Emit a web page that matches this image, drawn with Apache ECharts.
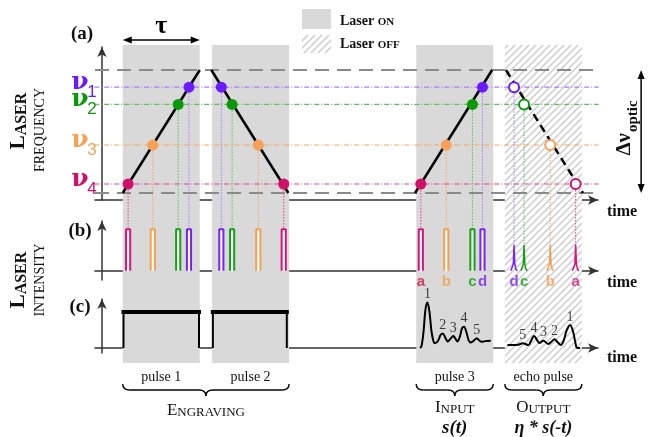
<!DOCTYPE html>
<html>
<head>
<meta charset="utf-8">
<script src="https://cdn.jsdelivr.net/npm/echarts@6.0.0/dist/echarts.min.js"></script>
<style>
html,body{margin:0;padding:0;background:#ffffff;}
#chart{width:656px;height:437px;}
</style>
</head>
<body>
<div id="chart"></div>
<script>
// ================= DATA =================
const tau = 10;                                  // chirp duration (time units)
const deltaNu = 10;                              // optical bandwidth Δν_optic (freq units)
const rampStarts = [2.7, 14.2, 40.65, 52.45];    // pulse 1, pulse 2, pulse 3, echo
const rampDirections = ['up', 'down', 'up', 'down'];
const rampDashed = [false, false, false, true];
const nuLevels = [8.6, 7.2, 3.9, 0.73];          // ν1, ν2, ν3, ν4
const nuNames = ['1', '2', '3', '4'];
const pulseLetters = ['d', 'c', 'b', 'a'];       // letter of each frequency component
// time at which each frequency is reached: [pulse 1, pulse 2, pulse 3, echo]
const nu1Times = [11.3, 15.5, 49.4, 53.5];
const nu2Times = [9.9, 16.9, 48.1, 54.8];
const nu3Times = [6.6, 20.3, 44.7, 58.2];
const nu4Times = [3.4, 23.6, 41.4, 61.5];
const onWindows = [[2.7, 12.7], [14.3, 24.3], [40.8, 50.8]];
const offWindow = [52.3, 62.3];
const pulseNames = ['pulse 1', 'pulse 2', 'pulse 3', 'echo pulse'];
const squarePulses = [[2.8, 12.6], [14.4, 24.0]];
const rectPulseHeight = 1.0;
const echoSpikeHeight = 0.62;
// input signal s(t), panel (c)
const inputT = [41.30, 41.49, 41.75, 41.99, 42.25, 42.51, 42.79, 43.05, 43.25, 43.64, 43.96, 44.25, 44.55, 44.90, 45.26, 45.62, 45.91, 46.14, 46.49, 46.75, 47.01, 47.34, 47.60, 47.88, 48.25, 48.66, 49.03, 49.31, 49.74, 50.48];
const inputS = [0, 0.05, 0.45, 1.05, 1.26, 1.02, 0.45, 0.18, 0.13, 0.20, 0.36, 0.40, 0.30, 0.18, 0.26, 0.33, 0.25, 0.18, 0.33, 0.55, 0.59, 0.42, 0.22, 0.15, 0.20, 0.27, 0.20, 0.17, 0.19, 0.20];
// echo signal η·s(-t), panel (c)
const echoT = [52.64, 53.25, 54.03, 54.64, 55.36, 55.71, 56.10, 56.49, 56.79, 57.31, 57.96, 58.38, 58.74, 59.16, 59.57, 59.94, 60.32, 60.78, 61.17, 61.49, 61.69, 62.08];
const echoS = [0.08, 0.08, 0.09, 0.13, 0.08, 0.20, 0.33, 0.22, 0.14, 0.20, 0.11, 0.18, 0.24, 0.16, 0.08, 0.20, 0.48, 0.64, 0.45, 0.12, 0, 0];
const inputPeakIdx = [4, 11, 15, 20, 25];
const inputPeakNames = ['1', '2', '3', '4', '5'];
const echoPeakIdx = [3, 6, 9, 12, 17];
const echoPeakNames = ['5', '4', '3', '2', '1'];
// axis extents / line spans (time & freq units)
const timeRange = [-0.9, 64.4];
const refLineSpan = [-0.9, 71.9];
const levelLineSpan = [-1.0, 64.5];
const deltaArrowTime = 70;

// ================= STYLE =================
const SERIF = "'Liberation Serif','DejaVu Serif',serif";
const GREEK = "'DejaVu Serif','Liberation Serif',serif";
const SANS = "'Liberation Sans','DejaVu Sans',sans-serif";
const pulseColors = ['#7a22ee', '#15a015', '#f5a050', '#d4157a'];
const levelColors = ['#a67cff', '#5cbf5c', '#f7a65c', '#e63f8e'];
const dotColors = ['#6a1cff', '#0b990b', '#f7a058', '#d0106a'];
const inputLetterColors = ['#7a22ee', '#15a015', '#f5a050', '#cc1a3a'];
const echoLetterColors = ['#7a22ee', '#15a015', '#f5a050', '#d6197a'];
const AX = '#333';

function makeHatch() {
  const c = document.createElement('canvas');
  c.width = 7; c.height = 7;
  const x = c.getContext('2d');
  x.fillStyle = '#ffffff'; x.fillRect(0, 0, 7, 7);
  x.strokeStyle = '#cdcdcd'; x.lineWidth = 1.5;
  x.beginPath();
  x.moveTo(-1, 8); x.lineTo(8, -1);
  x.moveTo(-2, 2); x.lineTo(2, -2);
  x.moveTo(5, 9); x.lineTo(9, 5);
  x.stroke();
  return c;
}
const hatch = { image: makeHatch(), repeat: 'repeat' };

const chart = echarts.init(document.getElementById('chart'), null, { renderer: 'canvas', width: 656, height: 437 });

function xAx(i, show, onZero) {
  return {
    type: 'value', gridIndex: i, min: timeRange[0], max: timeRange[1],
    axisLine: { show: show, onZero: onZero, symbol: ['none', 'arrow'], symbolSize: [7, 10],
      lineStyle: { color: AX, width: 1.5 } },
    axisTick: { show: false }, axisLabel: { show: false }, splitLine: { show: false }
  };
}
function yAx(i, min, max, show) {
  return {
    type: 'value', gridIndex: i, min: min, max: max,
    axisLine: { show: show, onZero: true, symbol: ['none', 'arrow'], symbolSize: [7, 10],
      lineStyle: { color: AX, width: 1.5 } },
    axisTick: { show: false }, axisLabel: { show: false }, splitLine: { show: false }
  };
}

const grids = [
  { left: 95, right: 58, top: 47, bottom: 237 },   // (a)
  { left: 95, right: 58, top: 221, bottom: 157 },  // (b)
  { left: 95, right: 58, top: 299, bottom: 84 },   // (c)
  { left: 95, right: 58, top: 45, bottom: 74 }     // background windows
];

const series = [];
// background windows
series.push({
  type: 'line', xAxisIndex: 3, yAxisIndex: 3, data: [[timeRange[0], -5]], showSymbol: false,
  silent: true, z: 0,
  markArea: {
    silent: true, label: { show: false },
    data: onWindows.map(w => [{ xAxis: w[0], yAxis: 0, itemStyle: { color: '#d9d9d9' } }, { xAxis: w[1], yAxis: 1 }])
      .concat([[{ xAxis: offWindow[0], yAxis: 0, itemStyle: { color: hatch } }, { xAxis: offWindow[1], yAxis: 1 }]])
  }
});
// dashed reference lines at 0 and Δν
[0, deltaNu].forEach(v => series.push({
  type: 'line', xAxisIndex: 0, yAxisIndex: 0, data: [[refLineSpan[0], v], [refLineSpan[1], v]],
  showSymbol: false, clip: false, silent: true, z: 3,
  lineStyle: { color: '#8a8a8a', width: 2, type: [14, 8] }
}));
// frequency levels
nuLevels.forEach((v, k) => series.push({
  type: 'line', xAxisIndex: 0, yAxisIndex: 0, data: [[levelLineSpan[0], v], [levelLineSpan[1], v]],
  showSymbol: false, clip: false, silent: true, z: 3,
  lineStyle: { color: levelColors[k], width: 1.2, type: [5, 2, 1, 2] }
}));
// chirp ramps
rampStarts.forEach((s, i) => {
  const up = rampDirections[i] === 'up';
  series.push({
    type: 'line', xAxisIndex: 0, yAxisIndex: 0,
    data: up ? [[s, 0], [s + tau, deltaNu]] : [[s, deltaNu], [s + tau, 0]],
    showSymbol: false, clip: false, silent: true, z: 4,
    lineStyle: { color: '#000', width: 2.5, type: rampDashed[i] ? [8, 5] : 'solid' }
  });
});
const nuTimes = [nu1Times, nu2Times, nu3Times, nu4Times];
// dots: filled for the written pulses, hollow for the echo
nuTimes.forEach((times, k) => {
  series.push({
    type: 'scatter', xAxisIndex: 0, yAxisIndex: 0, silent: true, z: 6, clip: false,
    symbol: 'circle', symbolSize: 11, itemStyle: { color: dotColors[k], opacity: 1 },
    data: times.slice(0, 3).map(t => [t, nuLevels[k]])
  });
  series.push({
    type: 'scatter', xAxisIndex: 0, yAxisIndex: 0, silent: true, z: 6, clip: false,
    symbol: 'circle', symbolSize: 10,
    itemStyle: { color: '#ffffff', borderColor: dotColors[k], borderWidth: 2, opacity: 1 },
    data: times.slice(3).map(t => [t, nuLevels[k]])
  });
});
// (b) pulses
const hw = 0.27;
nuTimes.forEach((times, k) => {
  times.forEach((t, j) => {
    if (j < 3) {
      series.push({
        type: 'line', xAxisIndex: 1, yAxisIndex: 1, showSymbol: false, silent: true, z: 5,
        data: [[t - hw, 0], [t - hw, rectPulseHeight], [t + hw, rectPulseHeight], [t + hw, 0]],
        lineStyle: { color: pulseColors[k], width: 2 },
        areaStyle: { color: '#ffffff', opacity: 1 }
      });
    } else {
      const h = echoSpikeHeight;
      series.push({
        type: 'line', xAxisIndex: 1, yAxisIndex: 1, showSymbol: false, silent: true, z: 5,
        data: [[t - 0.42, 0], [t - 0.24, 0.04], [t - 0.1, 0.16], [t, h], [t + 0.1, 0.16], [t + 0.24, 0.04], [t + 0.42, 0]],
        lineStyle: { color: pulseColors[k], width: 1.5 }
      });
    }
  });
});
// letters under pulses
series.push({
  type: 'scatter', xAxisIndex: 1, yAxisIndex: 1, silent: true, z: 7, symbolSize: 0.1,
  itemStyle: { color: 'rgba(0,0,0,0)' },
  data: nuTimes.flatMap((times, k) => [
    { value: [times[2], 0], name: pulseLetters[k], label: { color: inputLetterColors[k] } },
    { value: [times[3], 0], name: pulseLetters[k], label: { color: echoLetterColors[k] } }
  ]),
  label: { show: true, position: 'bottom', distance: 3, formatter: p => p.name,
    fontFamily: SANS, fontWeight: 'bold', fontSize: 15 }
});
// (c) square pulses
squarePulses.forEach(p => {
  series.push({
    type: 'line', xAxisIndex: 2, yAxisIndex: 2, showSymbol: false, silent: true, z: 5,
    data: [[p[0], 0], [p[0], 1], [p[1], 1], [p[1], 0]],
    lineStyle: { color: '#000', width: 2 }
  });
  series.push({
    type: 'line', xAxisIndex: 2, yAxisIndex: 2, showSymbol: false, silent: true, z: 5,
    data: [[p[0], 1], [p[1], 1]],
    lineStyle: { color: '#000', width: 4, cap: 'square' }
  });
});
// signals
series.push({
  type: 'line', xAxisIndex: 2, yAxisIndex: 2, showSymbol: false, silent: true, z: 5, smooth: 0.35,
  data: inputT.map((t, i) => [t, inputS[i]]), lineStyle: { color: '#000', width: 2 }
});
series.push({
  type: 'line', xAxisIndex: 2, yAxisIndex: 2, showSymbol: false, silent: true, z: 5, smooth: 0.35,
  data: echoT.map((t, i) => [t, echoS[i]]), lineStyle: { color: '#000', width: 2 }
});
series.push({
  type: 'scatter', xAxisIndex: 2, yAxisIndex: 2, silent: true, z: 7, symbolSize: 0.1,
  itemStyle: { color: 'rgba(0,0,0,0)' },
  data: inputPeakIdx.map((i, n) => ({ value: [inputT[i], inputS[i]], name: inputPeakNames[n] }))
    .concat(echoPeakIdx.map((i, n) => ({ value: [echoT[i], echoS[i]], name: echoPeakNames[n] }))),
  label: { show: true, position: 'top', distance: 1, formatter: p => p.name,
    fontFamily: SERIF, fontSize: 14, color: '#111' }
});

chart.setOption({
  animation: false,
  backgroundColor: '#ffffff',
  grid: grids,
  xAxis: [xAx(0, true, false), xAx(1, true, true), xAx(2, true, true), xAx(3, false, false)],
  yAxis: [yAx(0, -0.57, 11.87, true), yAx(1, -0.22, 1.2, true), yAx(2, -0.14, 1.36, true), yAx(3, 0, 1, false)],
  series: series
});

// ================= ANNOTATIONS (positions from the axes) =================
const A = (t, v) => chart.convertToPixel({ gridIndex: 0 }, [t, v]);
const B = (t, v) => chart.convertToPixel({ gridIndex: 1 }, [t, v]);
const X = t => chart.convertToPixel({ gridIndex: 3 }, [t, 0])[0];
const g = [];
// vertical dotted connectors
nuTimes.forEach((times, k) => times.forEach((t, j) => {
  const p1 = A(t, nuLevels[k]);
  const p2 = B(t, j < 3 ? rectPulseHeight : echoSpikeHeight);
  g.push({ type: 'line', z: 1, silent: true,
    shape: { x1: p1[0], y1: p1[1], x2: p2[0], y2: p2[1] },
    style: { stroke: levelColors[k], lineWidth: 1, lineDash: [1.5, 1.5] } });
}));
function txt(x, y, text, font, opts) {
  return Object.assign({ type: 'text', x: x, y: y, z: 10, silent: true,
    style: Object.assign({ text: text, font: font, fill: '#111', align: 'center', verticalAlign: 'middle' }, opts || {}) });
}
function arrowHead(x, y, dir) { // dir: 'l','r','u','d'
  const L = 9, W = 3.5;
  let pts;
  if (dir === 'l') pts = [[x, y], [x + L, y - W], [x + L, y + W]];
  if (dir === 'r') pts = [[x, y], [x - L, y - W], [x - L, y + W]];
  if (dir === 'u') pts = [[x, y], [x - W, y + L], [x + W, y + L]];
  if (dir === 'd') pts = [[x, y], [x - W, y - L], [x + W, y - L]];
  return { type: 'polygon', z: 10, silent: true, shape: { points: pts }, style: { fill: '#000' } };
}
// ν labels
nuLevels.forEach((v, k) => {
  const y = A(0, v)[1];
  g.push(txt(80, y - 5, 'ν', 'bold 25px ' + GREEK, { fill: dotColors[k] }));
  g.push(txt(92, y + 5, nuNames[k], '17px ' + SANS, { fill: dotColors[k] }));
});
// τ arrow
const tx0 = X(rampStarts[0]), tx1 = X(rampStarts[0] + tau);
g.push({ type: 'line', z: 10, silent: true, shape: { x1: tx0 + 4, y1: 40, x2: tx1 - 4, y2: 40 }, style: { stroke: '#000', lineWidth: 1.5 } });
g.push(arrowHead(tx0, 40, 'l'), arrowHead(tx1, 40, 'r'));
g.push(txt((tx0 + tx1) / 2, 26, 'τ', 'bold 26px ' + SERIF, { fill: '#000' }));
// Δν arrow
const dTop = A(deltaArrowTime, deltaNu), dBot = A(deltaArrowTime, 0);
g.push({ type: 'line', z: 10, silent: true, shape: { x1: dTop[0], y1: dTop[1] + 4, x2: dBot[0], y2: dBot[1] - 4 }, style: { stroke: '#000', lineWidth: 1.5 } });
g.push(arrowHead(dTop[0], dTop[1], 'u'), arrowHead(dBot[0], dBot[1], 'd'));
g.push({ type: 'group', x: 628, y: 133, rotation: Math.PI / 2, z: 10, silent: true,
  children: [
    { type: 'text', x: 0, y: -3, style: { text: 'Δν', font: 'bold 21px ' + SERIF, fill: '#111', align: 'right', verticalAlign: 'middle' } },
    { type: 'text', x: 1, y: 5, style: { text: 'optic', font: 'bold 15px ' + SERIF, fill: '#111', align: 'left', verticalAlign: 'middle' } }
  ] });
// panel tags
g.push(txt(82, 34, '(a)', 'bold 19px ' + SERIF));
g.push(txt(80, 231, '(b)', 'bold 19px ' + SERIF));
g.push(txt(80, 307, '(c)', 'bold 19px ' + SERIF));
// time labels
[212, 283, 358].forEach(y => g.push(txt(607, y, 'time', 'bold 16px ' + SERIF, { align: 'left' })));
// vertical axis titles
function smallCaps(first, rest, big, small, weight) {
  return {
    text: '{b|' + first + '}{s|' + rest + '}',
    rich: {
      b: { fontFamily: SERIF, fontSize: big, fontWeight: weight, fill: '#111', verticalAlign: 'bottom' },
      s: { fontFamily: SERIF, fontSize: small, fontWeight: weight, fill: '#111', verticalAlign: 'bottom' }
    }
  };
}
function vTitle(cy1, cy2, word2) {
  g.push({ type: 'group', x: 0, y: 0, z: 10, silent: true, children: [
    { type: 'text', x: 19, y: cy1, rotation: Math.PI / 2, style: Object.assign({ align: 'center', verticalAlign: 'middle' }, smallCaps('L', 'ASER', 21, 16, 'bold')) },
    { type: 'text', x: 40, y: cy2, rotation: Math.PI / 2, style: { text: word2, font: '14px ' + SERIF, fill: '#111', align: 'center', verticalAlign: 'middle' } }
  ] });
}
vTitle(121, 130, 'FREQUENCY');
vTitle(280, 280, 'INTENSITY');
// legend
g.push({ type: 'rect', z: 10, silent: true, shape: { x: 302, y: 9, width: 29, height: 20 }, style: { fill: '#d9d9d9' } });
g.push({ type: 'rect', z: 10, silent: true, shape: { x: 302, y: 35, width: 29, height: 18 }, style: { fill: hatch } });
g.push({ type: 'text', x: 340, y: 21, z: 10, silent: true, style: Object.assign({ align: 'left', verticalAlign: 'middle' }, smallCaps('Laser ', 'ON', 14, 11, 'bold')) });
g.push({ type: 'text', x: 340, y: 44, z: 10, silent: true, style: Object.assign({ align: 'left', verticalAlign: 'middle' }, smallCaps('Laser ', 'OFF', 14, 11, 'bold')) });
// pulse names
const windows = onWindows.concat([offWindow]);
windows.forEach((w, i) => g.push(txt((X(w[0]) + X(w[1])) / 2, 377, pulseNames[i], '14px ' + SERIF)));
// braces
function brace(x0, x1, y0) {
  const y1 = y0 + 6, y2 = y0 + 12, r = 7, xm = (x0 + x1) / 2;
  const st = { stroke: '#000', lineWidth: 1.4, fill: null };
  const e = (shape, type) => ({ type: type, z: 10, silent: true, shape: shape, style: st });
  g.push(e({ x1: x0, y1: y0, cpx1: x0, cpy1: y1, x2: x0 + r, y2: y1 }, 'bezierCurve'));
  g.push(e({ x1: x0 + r, y1: y1, x2: xm - r, y2: y1 }, 'line'));
  g.push(e({ x1: xm - r, y1: y1, cpx1: xm, cpy1: y1, x2: xm, y2: y2 }, 'bezierCurve'));
  g.push(e({ x1: xm, y1: y2, cpx1: xm, cpy1: y1, x2: xm + r, y2: y1 }, 'bezierCurve'));
  g.push(e({ x1: xm + r, y1: y1, x2: x1 - r, y2: y1 }, 'line'));
  g.push(e({ x1: x1 - r, y1: y1, cpx1: x1, cpy1: y1, x2: x1, y2: y0 }, 'bezierCurve'));
}
brace(X(onWindows[0][0]), X(onWindows[1][1]), 384);
brace(X(onWindows[2][0]), X(onWindows[2][1]), 384);
brace(X(offWindow[0]), X(offWindow[1]), 384);
// group labels
function capsLabel(cx, cy, first, rest) {
  g.push({ type: 'text', x: cx, y: cy, z: 10, silent: true, style: Object.assign({ align: 'center', verticalAlign: 'middle' }, smallCaps(first, rest, 17, 13, 'normal')) });
}
capsLabel((X(onWindows[0][0]) + X(onWindows[1][1])) / 2, 411, 'E', 'NGRAVING');
capsLabel((X(onWindows[2][0]) + X(onWindows[2][1])) / 2, 408, 'I', 'NPUT');
capsLabel((X(offWindow[0]) + X(offWindow[1])) / 2, 408, 'O', 'UTPUT');
g.push(txt((X(onWindows[2][0]) + X(onWindows[2][1])) / 2, 428, 's(t)', 'italic bold 19px ' + SERIF));
g.push(txt((X(offWindow[0]) + X(offWindow[1])) / 2, 428, 'η * s(-t)', 'italic bold 18px ' + SERIF));

chart.setOption({ graphic: { elements: g } });
</script>
</body>
</html>
